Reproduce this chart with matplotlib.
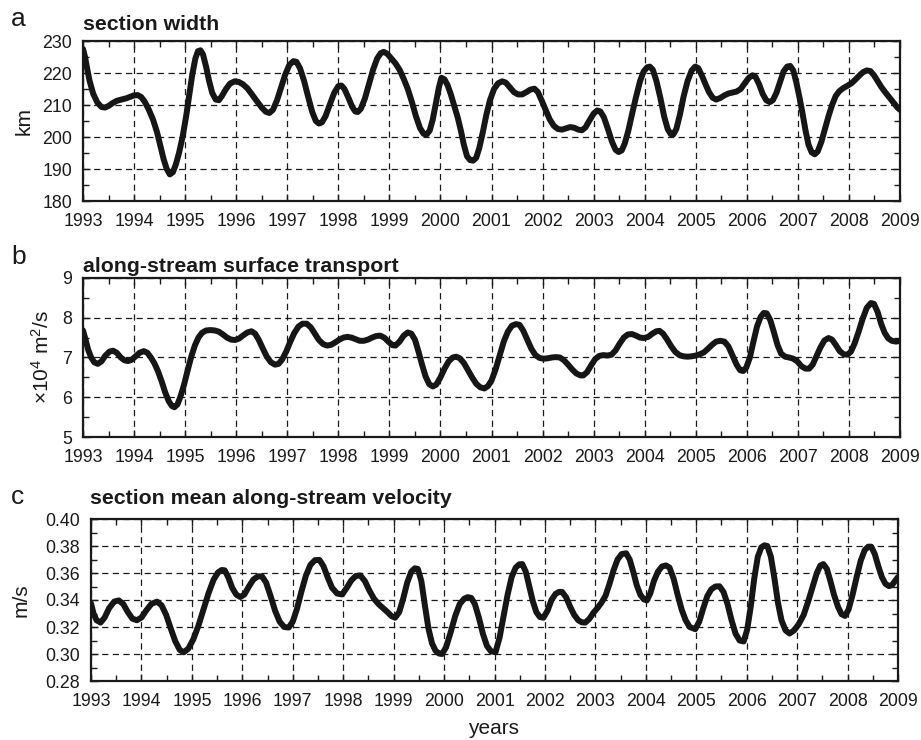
import numpy as np
import matplotlib
matplotlib.use("Agg")
import matplotlib.pyplot as plt
from matplotlib.ticker import MultipleLocator, FormatStrFormatter

plt.rcParams["font.family"] = ["Liberation Sans", "DejaVu Sans"]
plt.rcParams["mathtext.fontset"] = "custom"
plt.rcParams["mathtext.rm"] = "Liberation Sans"
plt.rcParams["mathtext.it"] = "Liberation Sans:italic"
plt.rcParams["mathtext.bf"] = "Liberation Sans:bold"

# a: section width (km)
years_a = [1993.00, 1993.04, 1993.08, 1993.13, 1993.20, 1993.28, 1993.36, 1993.43, 1993.50, 1993.58,
           1993.66, 1993.75, 1993.85, 1993.93, 1994.00, 1994.07, 1994.14, 1994.21, 1994.29, 1994.37,
           1994.45, 1994.52, 1994.58, 1994.64, 1994.70, 1994.76, 1994.82, 1994.88, 1994.95, 1995.02,
           1995.08, 1995.14, 1995.20, 1995.25, 1995.30, 1995.35, 1995.41, 1995.47, 1995.53, 1995.60,
           1995.66, 1995.72, 1995.80, 1995.88, 1995.97, 1996.05, 1996.13, 1996.22, 1996.30, 1996.40,
           1996.50, 1996.58, 1996.65, 1996.72, 1996.80, 1996.88, 1996.96, 1997.04, 1997.12, 1997.18,
           1997.25, 1997.33, 1997.41, 1997.49, 1997.56, 1997.62, 1997.68, 1997.75, 1997.83, 1997.92,
           1998.00, 1998.06, 1998.12, 1998.20, 1998.27, 1998.33, 1998.38, 1998.44, 1998.52, 1998.60,
           1998.68, 1998.76, 1998.83, 1998.89, 1998.96, 1999.04, 1999.12, 1999.20, 1999.28, 1999.36,
           1999.44, 1999.52, 1999.60, 1999.67, 1999.73, 1999.79, 1999.85, 1999.91, 1999.97, 2000.02,
           2000.08, 2000.14, 2000.20, 2000.27, 2000.34, 2000.40, 2000.46, 2000.52, 2000.58, 2000.64,
           2000.70, 2000.76, 2000.83, 2000.90, 2000.97, 2001.05, 2001.13, 2001.21, 2001.28, 2001.36,
           2001.44, 2001.52, 2001.60, 2001.68, 2001.76, 2001.84, 2001.91, 2001.98, 2002.06, 2002.14,
           2002.22, 2002.30, 2002.38, 2002.46, 2002.54, 2002.62, 2002.70, 2002.77, 2002.84, 2002.92,
           2003.00, 2003.07, 2003.13, 2003.20, 2003.28, 2003.36, 2003.43, 2003.49, 2003.55, 2003.61,
           2003.68, 2003.75, 2003.83, 2003.91, 2003.98, 2004.05, 2004.10, 2004.16, 2004.23, 2004.31,
           2004.38, 2004.45, 2004.51, 2004.56, 2004.62, 2004.69, 2004.76, 2004.84, 2004.92, 2004.99,
           2005.05, 2005.12, 2005.19, 2005.26, 2005.33, 2005.40, 2005.48, 2005.56, 2005.64, 2005.72,
           2005.80, 2005.88, 2005.96, 2006.04, 2006.11, 2006.17, 2006.24, 2006.31, 2006.38, 2006.45,
           2006.51, 2006.58, 2006.65, 2006.72, 2006.79, 2006.85, 2006.91, 2006.97, 2007.03, 2007.09,
           2007.15, 2007.21, 2007.27, 2007.33, 2007.39, 2007.46, 2007.53, 2007.60, 2007.67, 2007.74,
           2007.81, 2007.89, 2007.97, 2008.05, 2008.13, 2008.21, 2008.28, 2008.35, 2008.42, 2008.49,
           2008.56, 2008.64, 2008.72, 2008.80, 2008.88, 2008.95, 2009.00]
width_km = [227.5, 225.0, 221.5, 217.5, 213.5, 210.8, 209.4, 209.2, 209.7, 210.6,
            211.3, 211.7, 212.1, 212.6, 213.0, 213.1, 212.5, 211.0, 208.5, 205.5,
            201.5, 197.0, 193.0, 190.0, 188.3, 189.0, 191.5, 195.0, 200.0, 206.5,
            213.0, 219.5, 224.5, 226.8, 227.1, 225.8, 222.0, 217.5, 213.8, 211.7,
            211.5, 212.8, 215.0, 216.7, 217.4, 217.2, 216.5, 215.2, 213.5, 211.3,
            209.2, 207.9, 207.5, 208.5, 211.5, 215.5, 219.5, 222.5, 223.7, 223.5,
            221.5, 217.5, 212.5, 207.8, 205.0, 204.2, 204.6, 206.5, 210.0, 213.8,
            215.9, 216.1, 215.0, 212.2, 209.5, 208.0, 207.8, 208.8, 212.0, 216.5,
            221.0, 224.5, 226.2, 226.6, 226.0, 224.5, 223.0, 221.0, 218.2, 215.0,
            211.0, 206.5, 202.8, 201.0, 200.8, 202.0, 205.5, 210.5, 215.5, 218.5,
            218.0, 216.2, 213.5, 209.8, 206.0, 202.0, 197.5, 194.0, 192.8, 192.6,
            193.5, 196.5, 201.5, 207.0, 211.5, 215.0, 216.8, 217.4, 217.0, 215.5,
            214.0, 213.3, 213.3, 214.0, 214.8, 215.1, 214.0, 211.5, 208.5, 205.5,
            203.5, 202.5, 202.3, 202.7, 203.1, 202.9, 202.3, 202.1, 203.0, 205.2,
            207.3, 208.3, 208.0, 206.2, 202.5, 198.5, 196.0, 195.3, 195.8, 198.0,
            202.0, 207.0, 212.5, 217.5, 220.5, 221.8, 222.0, 221.0, 217.5, 212.0,
            206.5, 202.5, 200.9, 200.8, 202.5, 207.0, 212.5, 217.5, 220.8, 222.0,
            221.5, 219.2, 216.5, 214.0, 212.3, 211.7, 212.2, 213.0, 213.6, 213.9,
            214.2, 215.0, 216.8, 218.5, 219.3, 218.8, 216.5, 213.5, 211.5, 210.9,
            211.5, 213.8, 217.2, 220.5, 222.0, 222.2, 220.8, 217.0, 212.5, 207.5,
            202.0, 197.5, 195.2, 194.6, 195.5, 198.5, 202.5, 206.5, 210.0, 212.8,
            214.3, 215.3, 216.0, 216.8, 218.0, 219.3, 220.3, 220.8, 220.6, 219.3,
            217.5, 215.5, 213.8, 212.2, 210.6, 209.2, 208.5]

# b: along-stream surface transport (x10^4 m2/s)
years_b = [1993.00, 1993.05, 1993.10, 1993.16, 1993.22, 1993.29, 1993.36, 1993.44, 1993.52, 1993.59,
           1993.66, 1993.74, 1993.81, 1993.88, 1993.95, 1994.03, 1994.11, 1994.19, 1994.26, 1994.33,
           1994.40, 1994.47, 1994.54, 1994.61, 1994.68, 1994.74, 1994.79, 1994.85, 1994.91, 1994.98,
           1995.05, 1995.12, 1995.19, 1995.26, 1995.33, 1995.41, 1995.50, 1995.58, 1995.66, 1995.74,
           1995.82, 1995.90, 1995.98, 1996.06, 1996.14, 1996.22, 1996.30, 1996.37, 1996.44, 1996.52,
           1996.60, 1996.68, 1996.76, 1996.83, 1996.90, 1996.98, 1997.06, 1997.14, 1997.22, 1997.30,
           1997.38, 1997.46, 1997.54, 1997.62, 1997.70, 1997.78, 1997.86, 1997.94, 1998.02, 1998.10,
           1998.18, 1998.26, 1998.34, 1998.42, 1998.50, 1998.58, 1998.66, 1998.74, 1998.82, 1998.90,
           1998.98, 1999.06, 1999.12, 1999.20, 1999.28, 1999.36, 1999.43, 1999.50, 1999.57, 1999.64,
           1999.71, 1999.78, 1999.85, 1999.92, 2000.00, 2000.08, 2000.16, 2000.24, 2000.31, 2000.38,
           2000.46, 2000.54, 2000.62, 2000.70, 2000.78, 2000.86, 2000.93, 2001.00, 2001.08, 2001.16,
           2001.24, 2001.32, 2001.40, 2001.48, 2001.55, 2001.62, 2001.70, 2001.78, 2001.86, 2001.94,
           2002.02, 2002.10, 2002.18, 2002.26, 2002.34, 2002.42, 2002.50, 2002.58, 2002.66, 2002.74,
           2002.80, 2002.87, 2002.95, 2003.03, 2003.11, 2003.19, 2003.27, 2003.35, 2003.43, 2003.51,
           2003.59, 2003.67, 2003.75, 2003.83, 2003.91, 2003.99, 2004.07, 2004.15, 2004.23, 2004.29,
           2004.36, 2004.44, 2004.52, 2004.60, 2004.68, 2004.76, 2004.84, 2004.92, 2005.00, 2005.08,
           2005.16, 2005.24, 2005.32, 2005.40, 2005.48, 2005.56, 2005.64, 2005.72, 2005.80, 2005.87,
           2005.93, 2005.99, 2006.06, 2006.13, 2006.20, 2006.27, 2006.33, 2006.39, 2006.46, 2006.53,
           2006.60, 2006.67, 2006.75, 2006.83, 2006.91, 2006.99, 2007.07, 2007.15, 2007.22, 2007.29,
           2007.36, 2007.44, 2007.52, 2007.60, 2007.67, 2007.74, 2007.82, 2007.90, 2007.97, 2008.04,
           2008.11, 2008.19, 2008.27, 2008.35, 2008.43, 2008.49, 2008.56, 2008.63, 2008.70, 2008.77,
           2008.84, 2008.92, 2009.00]
transport = [7.68, 7.45, 7.20, 7.00, 6.88, 6.84, 6.90, 7.05, 7.15, 7.17,
             7.12, 7.00, 6.93, 6.91, 6.94, 7.03, 7.12, 7.16, 7.12, 7.00,
             6.85, 6.65, 6.40, 6.12, 5.90, 5.78, 5.75, 5.82, 6.02, 6.32,
             6.68, 7.02, 7.30, 7.50, 7.62, 7.68, 7.69, 7.68, 7.65, 7.58,
             7.50, 7.45, 7.44, 7.48, 7.56, 7.63, 7.66, 7.60, 7.45, 7.23,
             7.02, 6.88, 6.82, 6.84, 6.95, 7.15, 7.40, 7.62, 7.78, 7.85,
             7.85, 7.76, 7.60, 7.44, 7.34, 7.30, 7.32, 7.38, 7.45, 7.50,
             7.52, 7.50, 7.46, 7.42, 7.42, 7.45, 7.50, 7.54, 7.55, 7.50,
             7.40, 7.31, 7.30, 7.40, 7.55, 7.63, 7.60, 7.45, 7.15, 6.82,
             6.52, 6.33, 6.27, 6.32, 6.50, 6.72, 6.90, 7.00, 7.02, 6.98,
             6.86, 6.68, 6.50, 6.34, 6.25, 6.22, 6.28, 6.42, 6.70, 7.05,
             7.40, 7.65, 7.80, 7.84, 7.82, 7.68, 7.45, 7.22, 7.06, 6.99,
             6.97, 6.98, 7.00, 7.01, 7.00, 6.93, 6.82, 6.70, 6.60, 6.55,
             6.55, 6.63, 6.80, 6.96, 7.04, 7.06, 7.05, 7.07, 7.18, 7.35,
             7.50, 7.58, 7.59, 7.55, 7.50, 7.49, 7.52, 7.60, 7.66, 7.67,
             7.60, 7.45, 7.28, 7.14, 7.06, 7.03, 7.02, 7.03, 7.05, 7.08,
             7.13, 7.22, 7.32, 7.40, 7.42, 7.40, 7.28, 7.05, 6.82, 6.68,
             6.66, 6.75, 7.00, 7.40, 7.78, 8.02, 8.12, 8.11, 7.94, 7.64,
             7.32, 7.10, 7.02, 7.00, 6.97, 6.90, 6.78, 6.72, 6.72, 6.82,
             7.02, 7.25, 7.43, 7.49, 7.45, 7.32, 7.16, 7.08, 7.07, 7.15,
             7.35, 7.65, 7.98, 8.25, 8.37, 8.35, 8.15, 7.85, 7.62, 7.48,
             7.42, 7.40, 7.42]

# c: section mean along-stream velocity (m/s)
years_c = [1993.00, 1993.05, 1993.11, 1993.19, 1993.27, 1993.36, 1993.46, 1993.55, 1993.64, 1993.73,
           1993.82, 1993.91, 1994.00, 1994.10, 1994.20, 1994.31, 1994.40, 1994.49, 1994.58, 1994.67,
           1994.76, 1994.84, 1994.93, 1995.03, 1995.13, 1995.23, 1995.33, 1995.43, 1995.52, 1995.59,
           1995.65, 1995.72, 1995.80, 1995.88, 1995.96, 1996.04, 1996.13, 1996.22, 1996.31, 1996.39,
           1996.47, 1996.56, 1996.65, 1996.74, 1996.83, 1996.92, 1997.00, 1997.08, 1997.17, 1997.26,
           1997.35, 1997.44, 1997.53, 1997.61, 1997.69, 1997.78, 1997.88, 1997.98, 1998.07, 1998.16,
           1998.25, 1998.34, 1998.43, 1998.52, 1998.61, 1998.70, 1998.79, 1998.88, 1998.96, 1999.03,
           1999.11, 1999.19, 1999.27, 1999.35, 1999.42, 1999.48, 1999.55, 1999.62, 1999.69, 1999.76,
           1999.83, 1999.90, 1999.96, 2000.04, 2000.13, 2000.22, 2000.31, 2000.40, 2000.47, 2000.54,
           2000.61, 2000.69, 2000.77, 2000.85, 2000.93, 2001.02, 2001.10, 2001.18, 2001.26, 2001.34,
           2001.42, 2001.49, 2001.55, 2001.62, 2001.69, 2001.76, 2001.83, 2001.90, 2001.97, 2002.05,
           2002.13, 2002.21, 2002.28, 2002.34, 2002.42, 2002.50, 2002.58, 2002.66, 2002.73, 2002.80,
           2002.88, 2002.96, 2003.04, 2003.12, 2003.20, 2003.28, 2003.36, 2003.44, 2003.52, 2003.61,
           2003.68, 2003.75, 2003.82, 2003.89, 2003.96, 2004.02, 2004.09, 2004.16, 2004.24, 2004.32,
           2004.40, 2004.47, 2004.55, 2004.63, 2004.71, 2004.79, 2004.87, 2004.98, 2005.06, 2005.14,
           2005.22, 2005.30, 2005.38, 2005.46, 2005.54, 2005.62, 2005.70, 2005.78, 2005.86, 2005.94,
           2006.01, 2006.08, 2006.15, 2006.22, 2006.29, 2006.35, 2006.41, 2006.48, 2006.55, 2006.62,
           2006.69, 2006.77, 2006.85, 2006.94, 2007.03, 2007.13, 2007.22, 2007.31, 2007.39, 2007.46,
           2007.52, 2007.59, 2007.66, 2007.73, 2007.81, 2007.88, 2007.95, 2008.02, 2008.10, 2008.18,
           2008.26, 2008.34, 2008.41, 2008.47, 2008.54, 2008.61, 2008.68, 2008.75, 2008.82, 2008.88,
           2008.94, 2009.00]
velocity = [0.3375, 0.3300, 0.3250, 0.3233, 0.3270, 0.3340, 0.3388, 0.3397, 0.3370, 0.3310,
            0.3262, 0.3250, 0.3270, 0.3325, 0.3372, 0.3388, 0.3360, 0.3290, 0.3190, 0.3095,
            0.3030, 0.3013, 0.3040, 0.3110, 0.3210, 0.3330, 0.3450, 0.3550, 0.3605, 0.3622,
            0.3620, 0.3570, 0.3490, 0.3440, 0.3422, 0.3440, 0.3500, 0.3552, 0.3575, 0.3575,
            0.3530, 0.3430, 0.3320, 0.3240, 0.3200, 0.3196, 0.3240, 0.3330, 0.3460, 0.3580,
            0.3660, 0.3695, 0.3697, 0.3650, 0.3570, 0.3490, 0.3448, 0.3441, 0.3490, 0.3545,
            0.3578, 0.3582, 0.3540, 0.3470, 0.3410, 0.3370, 0.3340, 0.3310, 0.3280, 0.3269,
            0.3310, 0.3410, 0.3530, 0.3610, 0.3635, 0.3630, 0.3540, 0.3360, 0.3190, 0.3080,
            0.3025, 0.3003, 0.3000, 0.3050, 0.3160, 0.3280, 0.3370, 0.3410, 0.3421, 0.3415,
            0.3370, 0.3270, 0.3150, 0.3060, 0.3020, 0.3013, 0.3120, 0.3280, 0.3440, 0.3570,
            0.3640, 0.3664, 0.3666, 0.3610, 0.3500, 0.3390, 0.3310, 0.3274, 0.3269, 0.3320,
            0.3400, 0.3445, 0.3460, 0.3460, 0.3420, 0.3350, 0.3290, 0.3250, 0.3235, 0.3233,
            0.3260, 0.3305, 0.3340, 0.3380, 0.3430, 0.3520, 0.3620, 0.3700, 0.3740, 0.3746,
            0.3700, 0.3610, 0.3510, 0.3440, 0.3405, 0.3397, 0.3450, 0.3540, 0.3610, 0.3648,
            0.3656, 0.3640, 0.3560, 0.3440, 0.3330, 0.3250, 0.3200, 0.3184, 0.3240, 0.3340,
            0.3430, 0.3480, 0.3500, 0.3502, 0.3460, 0.3370, 0.3250, 0.3150, 0.3100, 0.3093,
            0.3180, 0.3350, 0.3560, 0.3720, 0.3790, 0.3805, 0.3800, 0.3720, 0.3560, 0.3380,
            0.3250, 0.3175, 0.3152, 0.3175, 0.3220, 0.3290, 0.3390, 0.3500, 0.3600, 0.3655,
            0.3666, 0.3630, 0.3540, 0.3440, 0.3350, 0.3295, 0.3282, 0.3330, 0.3440, 0.3570,
            0.3690, 0.3770, 0.3795, 0.3795, 0.3740, 0.3650, 0.3570, 0.3520, 0.3503, 0.3510,
            0.3540, 0.3570]

W, H = 921, 740
fig = plt.figure(figsize=(W / 100, H / 100), dpi=100)


def px_axes(x0, y0, x1, y1):
    # pixel box (top-left origin) -> axes
    return fig.add_axes([x0 / W, 1 - y1 / H, (x1 - x0) / W, (y1 - y0) / H])


def px_text(x, y, s, **kw):
    return fig.text(x / W, 1 - y / H, s, **kw)


panels = [
    (px_axes(83, 41, 900, 201), years_a, width_km, (180, 230), 10, 5, None),
    (px_axes(83, 278, 900, 437), years_b, transport, (5, 9), 1, 0.5, None),
    (px_axes(91, 519, 898, 681), years_c, velocity, (0.28, 0.40), 0.02, 0.01, "%.2f"),
]

for ax, x, y, ylim, major, minor, fmt in panels:
    ax.plot(x, y, color="#161616", lw=4.3, solid_joinstyle="round", solid_capstyle="round",
            zorder=3)
    ax.set_xlim(1993, 2009)
    ax.set_ylim(*ylim)
    ax.xaxis.set_major_locator(MultipleLocator(1))
    ax.xaxis.set_minor_locator(MultipleLocator(0.5))
    ax.yaxis.set_major_locator(MultipleLocator(major))
    ax.yaxis.set_minor_locator(MultipleLocator(minor))
    if fmt:
        ax.yaxis.set_major_formatter(FormatStrFormatter(fmt))
    ax.tick_params(which="both", direction="in", top=True, right=True,
                   labelsize=12.8, width=1.0, colors="#1a1a1a")
    ax.tick_params(which="major", length=5)
    ax.tick_params(which="minor", length=4)
    ax.tick_params(axis="x", pad=9)
    ax.tick_params(axis="y", pad=8)
    ax.grid(True, which="major", color="#1a1a1a", lw=0.9, linestyle=(0, (5, 3.5)))
    for sp in ax.spines.values():
        sp.set_linewidth(1.6)
        sp.set_color("#1a1a1a")

# panel letters and titles
px_text(11, 19, "a", fontsize=19, va="center", ha="left", color="#1a1a1a")
px_text(11, 257, "b", fontsize=19, va="center", ha="left", color="#1a1a1a")
px_text(11, 497, "c", fontsize=19, va="center", ha="left", color="#1a1a1a")
px_text(83, 30, "section width", fontsize=15.3, weight="bold", va="baseline", color="#1a1a1a")
px_text(83, 272, "along-stream surface transport", fontsize=15.3, weight="bold",
        va="baseline", color="#1a1a1a")
px_text(90, 504, "section mean along-stream velocity", fontsize=15.3, weight="bold",
        va="baseline", color="#1a1a1a")

# axis labels
px_text(24, 121, "km", fontsize=15, rotation=90, ha="center", va="center", color="#1a1a1a")
px_text(42, 357, r"×10$^{\mathrm{4}}$ m$^{\mathrm{2}}$/s", fontsize=15, rotation=90,
        ha="center", va="center", color="#1a1a1a")
px_text(21, 600, "m/s", fontsize=15, rotation=90, ha="center", va="center", color="#1a1a1a")
px_text(494, 728, "years", fontsize=15, ha="center", va="center", color="#1a1a1a")

fig.savefig("out.png", dpi=100)
